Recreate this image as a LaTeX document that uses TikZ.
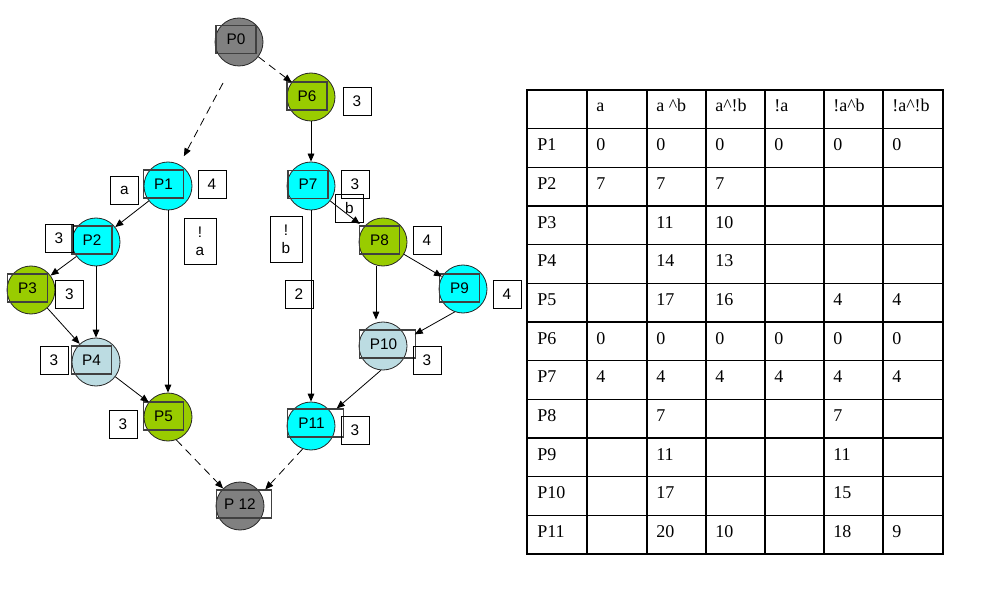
\documentclass[tikz,border=0pt]{standalone}
\usepackage{fontspec}
\setmainfont{Liberation Serif}
\newfontfamily\arialf{Liberation Sans}
\usetikzlibrary{arrows.meta}
\definecolor{pgray}{RGB}{128,128,128}
\definecolor{pgreen}{RGB}{153,204,0}
\definecolor{pcyan}{RGB}{0,255,255}
\definecolor{plblue}{RGB}{188,220,226}
\begin{document}
\begin{tikzpicture}[x=0.75pt,y=-0.75pt,
 proc/.style={circle,draw=black!85,line width=0.6pt,minimum size=36pt,inner sep=0pt},
 tbox/.style={draw=black!75,line width=0.9pt,minimum width=30pt,minimum height=21pt,inner sep=0pt,font=\arialf\fontsize{11.5pt}{13pt}\selectfont},
 wbox/.style={tbox,minimum width=41.5pt},
 lbox/.style={draw=black,line width=0.6pt,minimum width=21pt,minimum height=21pt,inner sep=0pt,align=center,font=\arialf\fontsize{11.5pt}{13.5pt}\selectfont},
 tallbox/.style={lbox,minimum width=24pt,minimum height=34.5pt},
 edge/.style={-{Triangle[length=6pt,width=5pt]},line width=0.6pt,black},
 dedge/.style={edge,dash pattern=on 6pt off 4pt},
 tline/.style={line width=1.1pt,black},
 touter/.style={line width=2pt,black},
 tcell/.style={anchor=base west,inner sep=0pt,font=\fontsize{13.5pt}{16pt}\selectfont}
]
\useasboundingbox (0,0) rectangle (993,613);

% process circles
\node[proc,fill=pgray]  (P0)  at (239,42)  {};
\node[proc,fill=pgreen] (P6)  at (311,97)  {};
\node[proc,fill=pcyan]  (P7)  at (311,186) {};
\node[proc,fill=pcyan]  (P1)  at (168,186) {};
\node[proc,fill=pcyan]  (P2)  at (96,242)  {};
\node[proc,fill=pgreen] (P3)  at (31,290)  {};
\node[proc,fill=plblue] (P4)  at (96,362)  {};
\node[proc,fill=pgreen] (P5)  at (168,417) {};
\node[proc,fill=pgreen] (P8)  at (383,242) {};
\node[proc,fill=pcyan]  (P9)  at (463,289) {};
\node[proc,fill=plblue] (P10) at (383,346) {};
\node[proc,fill=pcyan]  (P11) at (311,426) {};
\node[proc,fill=pgray]  (P12) at (240,506) {};

% text boxes
\node[tbox] (P0t)  at (236,39.5)  {P0};
\node[tbox] (P6t)  at (307,96)    {P6};
\node[tbox] (P7t)  at (308,184.5) {P7};
\node[tbox] (P1t)  at (163.5,184) {P1};
\node[tbox] (P2t)  at (92,240)    {P2};
\node[tbox] (P3t)  at (27.5,288)  {P3};
\node[tbox] (P4t)  at (91.5,360)  {P4};
\node[tbox] (P5t)  at (163.5,416) {P5};
\node[tbox] (P8t)  at (379.5,240) {P8};
\node[tbox] (P9t)  at (459.5,288) {P9};
\node[wbox] (P10t) at (387.5,344) {P10\hspace*{6pt}};
\node[wbox] (P11t) at (315.5,423) {P11\hspace*{6pt}};
\node[wbox] (P12t) at (244,504)   {P 12\hspace*{6pt}};

% label boxes
\node[lbox] (L6)  at (357,101)   {3};
\node[lbox] (La)  at (124.5,190) {a};
\node[lbox] (L1)  at (212,184)   {4};
\node[tallbox] (Lna) at (200,241) {!\\a};
\node[lbox] (L2)  at (59,238)    {3};
\node[lbox] (L3)  at (69.5,294)  {3};
\node[lbox] (L4)  at (54,360)    {3};
\node[lbox] (L5)  at (123,424)   {3};
\node[lbox] (L7)  at (355,184)   {3};
\node[lbox] (Lb)  at (349.5,208) {b};
\node[tallbox] (Lnb) at (286,239) {!\\b};
\node[lbox] (Ltwo) at (299,294.5) {2};
\node[lbox] (L8)  at (427,240)   {4};
\node[lbox] (L9)  at (507,294)   {4};
\node[lbox] (L10) at (427,360)   {3};
\node[lbox] (L11) at (355,430)   {3};

% connectors
\coordinate (d0) at (223,83);
\draw[dedge,shorten >=7pt] (d0) -- (P1);
\draw[dedge] (P0) -- (P6);
\draw[edge] (P6) -- (P7);
\draw[edge] (P1) -- (P2);
\draw[edge] (P1) -- (P5);
\draw[edge] (P2) -- (P3);
\draw[edge] (P2) -- (P4);
\draw[edge] (P3) -- (P4);
\draw[edge] (P4) -- (P5);
\draw[dedge] (P5.290) -- (P12);
\draw[edge,shorten >=3.75pt] (P7) -- (P8);
\draw[edge] (P7) -- (P11);
\draw[edge] ([xshift=-5.25pt]P8.south) -- ([xshift=-5.25pt,yshift=1.5pt]P10.north);
\draw[edge] (P8) -- (P9);
\draw[edge] (P9.250) -- ([xshift=-0.75pt,yshift=-3.75pt]P10t.north east);
\draw[edge] (P10.265) -- ([xshift=-5.25pt]P11t.north east);
\draw[dedge] (P11.250) -- ([xshift=-5.25pt]P12t.north east);

% table
\foreach \x in {587,647,706,765,824,883} \draw[tline] (\x,90) -- (\x,554);
\foreach \i in {1,...,11} \draw[tline] (527,90+\i*38.667) -- (943,90+\i*38.667);
\draw[touter] (527,90) rectangle (943,554);

\foreach \row [count=\r from 0] in {
  {{},a,a \textasciicircum b,a\textasciicircum!b,!a,!a\textasciicircum b,!a\textasciicircum!b},
  {P1,0,0,0,0,0,0},
  {P2,7,7,7,{},{},{}},
  {P3,{},11,10,{},{},{}},
  {P4,{},14,13,{},{},{}},
  {P5,{},17,16,{},4,4},
  {P6,0,0,0,0,0,0},
  {P7,4,4,4,4,4,4},
  {P8,{},7,{},{},7,{}},
  {P9,{},11,{},{},11,{}},
  {P10,{},17,{},{},15,{}},
  {P11,{},20,10,{},18,9}}
{
  \foreach \v [count=\c from 0] in \row {
    \pgfmathsetmacro\xx{{537,596,656,715,774,833,892}[\c]}
    \node[tcell] (c-\r-\c) at (\xx,112+\r*38.667) {\v};
  }
}
\end{tikzpicture}
\end{document}
